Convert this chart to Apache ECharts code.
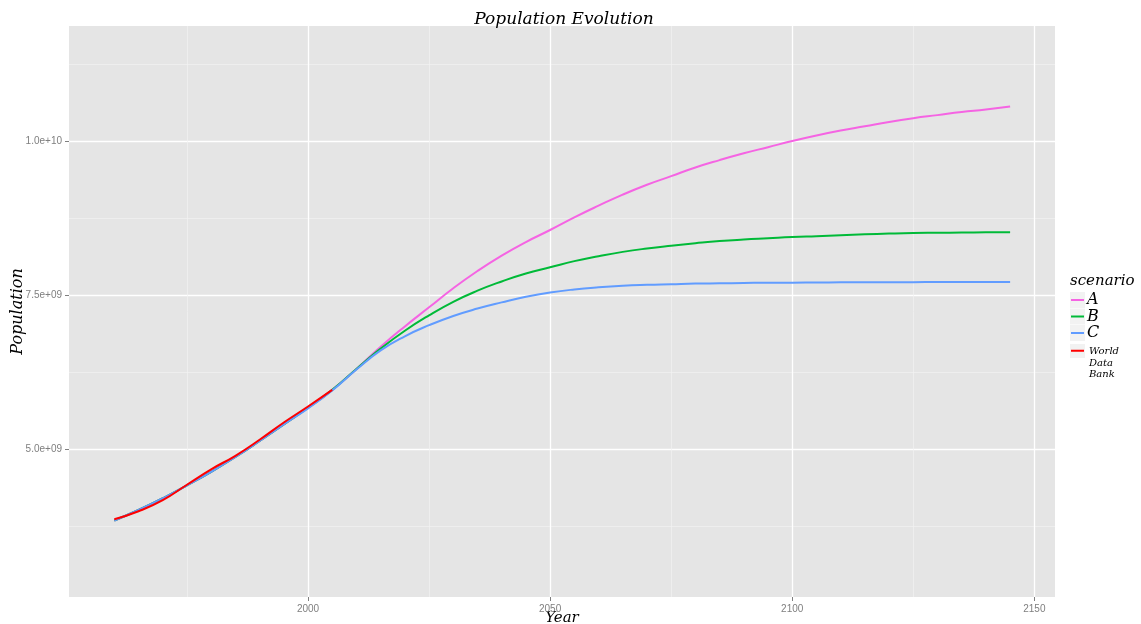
<!DOCTYPE html>
<html>
<head>
<meta charset="utf-8">
<script src="https://cdn.jsdelivr.net/npm/echarts@6/dist/echarts.min.js"></script>
<style>html,body{margin:0;padding:0;background:#fff}#c{width:1141px;height:624px}</style>
</head>
<body>
<div id="c"></div>
<script>
// ---- data (population, in billions) ----
const scenarioYears = [1960,1965,1970,1975,1980,1985,1990,1995,2000,2005,2010,2015,2020,2025,2030,2035,2040,2045,2050,2055,2060,2065,2070,2075,2080,2085,2090,2095,2100,2105,2110,2115,2120,2125,2130,2135,2140,2145];
const popA = [3.84,4.01,4.20,4.41,4.63,4.87,5.13,5.40,5.67,5.96,6.30,6.66,6.99,7.30,7.61,7.89,8.14,8.36,8.555,8.76,8.95,9.13,9.29,9.43,9.57,9.69,9.80,9.90,10.00,10.09,10.17,10.24,10.31,10.37,10.42,10.47,10.51,10.56];
const popB = [3.84,4.01,4.20,4.41,4.63,4.87,5.13,5.40,5.67,5.96,6.30,6.63,6.92,7.17,7.39,7.57,7.72,7.85,7.95,8.05,8.13,8.20,8.255,8.30,8.34,8.375,8.40,8.42,8.44,8.455,8.47,8.485,8.497,8.506,8.51,8.514,8.517,8.52];
const popC = [3.84,4.01,4.20,4.41,4.63,4.87,5.13,5.40,5.66,5.95,6.29,6.60,6.83,7.01,7.16,7.28,7.38,7.47,7.54,7.59,7.625,7.65,7.665,7.675,7.685,7.69,7.695,7.70,7.70,7.703,7.705,7.707,7.708,7.709,7.71,7.71,7.711,7.711];
const wdbYears = [1960,1965,1970,1975,1980,1985,1990,1995,2000,2005];
const popWDB = [3.86,3.99,4.17,4.42,4.67,4.89,5.15,5.43,5.69,5.96];
const xMajorTicks = [2000,2050,2100,2150];
const xMinorTicks = [1975,2025,2075,2125];
const yMajorTicks = [5.0e9,7.5e9,1.0e10];
const yMinorTicks = [3.75e9,6.25e9,8.75e9,1.125e10];
const seriesNames = ['A','B','C','World Data Bank'];
const seriesColors = ['#F564E3','#00BA38','#619CFF','#FF0000'];

const toPairs = (xs, ys) => xs.map((x, i) => [x, ys[i] * 1e9]);
const fmtSci = v => {
  const e = Math.round(Math.log10(v) - 0.4999);
  const m = v / Math.pow(10, e);
  return m.toFixed(1) + 'e+' + String(e).padStart(2, '0');
};

const serif = 'DejaVu Serif';
const sans = 'Liberation Sans';
const grey = '#7F7F7F';

const xBase = {type:'value', min:1950.64, max:2154.27, gridIndex:0};
const yBase = {type:'value', min:2.5974e9, max:1.18669e10, gridIndex:0};

const chart = echarts.init(document.getElementById('c'), null, {renderer:'canvas'});
const lineSeries = (name, data, color) => ({
  name, type:'line', data, showSymbol:false, smooth:true,
  lineStyle:{color, width:2}, itemStyle:{color}, emphasis:{disabled:true}, animation:false
});

chart.setOption({
  animation:false,
  backgroundColor:'#ffffff',
  title:{text:'Population Evolution', left:559, top:6, textAlign:'center',
    textStyle:{fontFamily:serif, fontStyle:'italic', fontWeight:'normal', fontSize:17, color:'#000'}},
  grid:{left:69, right:86, top:26, bottom:27, show:true, backgroundColor:'#E5E5E5', borderWidth:0,
    containLabel:false, outerBoundsMode:'none'},
  xAxis:[
    Object.assign({}, xBase, {
      name:'Year', nameLocation:'middle', nameGap:14, nameMoveOverlap:false,
      nameTextStyle:{fontFamily:serif, fontStyle:'italic', fontSize:15, color:'#000'},
      axisLine:{show:false},
      axisTick:{show:true, length:4, customValues:xMajorTicks, lineStyle:{color:grey}},
      axisLabel:{customValues:xMajorTicks, margin:7, fontFamily:sans, fontSize:10, color:grey, formatter:v => String(v)},
      splitLine:{show:true, lineStyle:{color:'#FFFFFF', width:1.3}}
    }),
    Object.assign({}, xBase, {
      axisLine:{show:false}, axisTick:{show:false, customValues:xMinorTicks},
      axisLabel:{show:false, customValues:xMinorTicks},
      splitLine:{show:true, lineStyle:{color:'#F2F2F2', width:0.7}}
    })
  ],
  yAxis:[
    Object.assign({}, yBase, {
      name:'Population', nameLocation:'middle', nameGap:43, nameMoveOverlap:false,
      nameTextStyle:{fontFamily:serif, fontStyle:'italic', fontSize:16, color:'#000'},
      axisLine:{show:false},
      axisTick:{show:true, length:4, customValues:yMajorTicks, lineStyle:{color:grey}},
      axisLabel:{customValues:yMajorTicks, margin:7, fontFamily:sans, fontSize:10, color:grey, formatter:fmtSci},
      splitLine:{show:true, lineStyle:{color:'#FFFFFF', width:1.3}}
    }),
    Object.assign({}, yBase, {
      axisLine:{show:false}, axisTick:{show:false, customValues:yMinorTicks},
      axisLabel:{show:false, customValues:yMinorTicks},
      splitLine:{show:true, lineStyle:{color:'#F2F2F2', width:0.7}}
    })
  ],
  legend:[
    {data:seriesNames.slice(0,3), orient:'vertical', left:1071, top:292, padding:0, itemGap:0.5,
      itemWidth:13, itemHeight:16, selectedMode:false,
      icon:'path://M0,7L13,7L13,9L0,9Z M0,0L0.01,0L0,0.01Z M0,16L0.01,16L0,15.99Z',
      textStyle:{fontFamily:serif, fontStyle:'italic', fontSize:16, lineHeight:16, color:'#000', padding:[0,0,0,-2]}},
    {data:[seriesNames[3]], orient:'vertical', left:1071, top:346, padding:0,
      itemWidth:13, itemHeight:27, selectedMode:false,
      icon:'path://M0,0L13,0L13,2L0,2Z M0,27L0.01,27L0,26.99Z',
      formatter: n => n.split(' ').join('\n'),
      textStyle:{fontFamily:serif, fontStyle:'italic', fontSize:10, lineHeight:11.5, color:'#000'}}
  ],
  graphic:[
    {type:'text', left:1070, top:274, style:{text:'scenario', font:'italic 15px "DejaVu Serif"', fill:'#000'}},
    {type:'rect', shape:{x:1070, y:292, width:15, height:16}, style:{fill:'#F2F2F2'}, z:-1},
    {type:'rect', shape:{x:1070, y:308.5, width:15, height:16}, style:{fill:'#F2F2F2'}, z:-1},
    {type:'rect', shape:{x:1070, y:325, width:15, height:16}, style:{fill:'#F2F2F2'}, z:-1},
    {type:'rect', shape:{x:1070, y:344, width:15, height:14}, style:{fill:'#F2F2F2'}, z:-1}
  ],
  series:[
    lineSeries(seriesNames[0], toPairs(scenarioYears, popA), seriesColors[0]),
    lineSeries(seriesNames[1], toPairs(scenarioYears, popB), seriesColors[1]),
    lineSeries(seriesNames[2], toPairs(scenarioYears, popC), seriesColors[2]),
    lineSeries(seriesNames[3], toPairs(wdbYears, popWDB), seriesColors[3])
  ]
});
</script>
</body>
</html>
